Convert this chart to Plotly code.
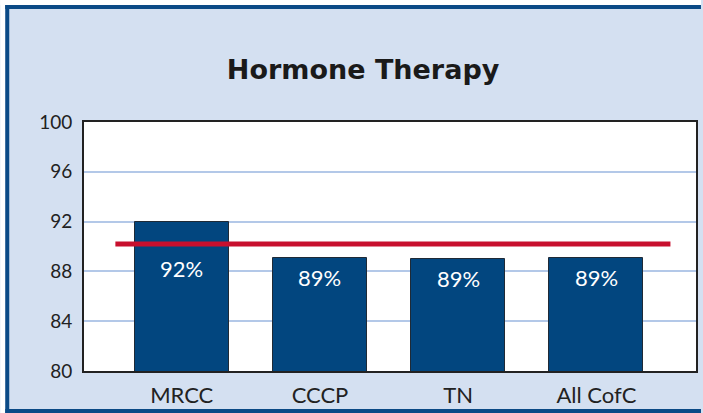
import plotly.graph_objects as go

categories = ["MRCC", "CCCP", "TN", "All CofC"]
values = [92.0, 89.1, 89.0, 89.1]
bar_labels = ["92%", "89%", "89%", "89%"]
benchmark_value = 90.2
benchmark_span = [-0.48, 3.535]
y_ticks = [80, 84, 88, 92, 96, 100]

W, H = 703, 413
ML, MR, MT, MB = 84, 5, 122, 42
PW, PH = W - ML - MR, H - MT - MB

def px_x(p):
    return (p - ML) / PW

def px_y(p):
    return (H - MB - p) / PH

xpos = list(range(len(categories)))

fig = go.Figure()
fig.add_trace(go.Bar(
    x=xpos, y=values, base=0, width=0.68,
    marker=dict(color="#02467f", line=dict(color="#1f2a36", width=1)),
    hoverinfo="skip",
))
fig.add_trace(go.Scatter(
    x=benchmark_span, y=[benchmark_value, benchmark_value], mode="lines",
    line=dict(color="#c8102e", width=5), hoverinfo="skip",
))

label_shift = [-47, -20, -20, -20]
for xi, v, t, s in zip(xpos, values, bar_labels, label_shift):
    fig.add_annotation(x=xi, y=v, text=t, showarrow=False, yshift=s,
                       font=dict(color="white", size=22, family="Lato"))

border = "#0b4a86"
# white margin outside the frame (top and left)
fig.add_shape(type="rect", xref="paper", yref="paper", x0=px_x(0), x1=px_x(W), y0=px_y(5), y1=px_y(0),
              fillcolor="white", line=dict(width=0), layer="below")
fig.add_shape(type="rect", xref="paper", yref="paper", x0=px_x(0), x1=px_x(5), y0=px_y(H), y1=px_y(0),
              fillcolor="white", line=dict(width=0), layer="below")
# frame lines: top, left, bottom
fig.add_shape(type="line", xref="paper", yref="paper", x0=px_x(5), x1=px_x(W), y0=px_y(7), y1=px_y(7),
              line=dict(color=border, width=4), layer="below")
fig.add_shape(type="line", xref="paper", yref="paper", x0=px_x(7), x1=px_x(7), y0=px_y(5), y1=px_y(H),
              line=dict(color=border, width=4), layer="below")
fig.add_shape(type="line", xref="paper", yref="paper", x0=px_x(5), x1=px_x(W), y0=px_y(411), y1=px_y(411),
              line=dict(color=border, width=4), layer="below")

fig.update_layout(
    width=W, height=H,
    margin=dict(l=ML, r=MR, t=MT, b=MB),
    paper_bgcolor="#d4e0f1", plot_bgcolor="white",
    showlegend=False,
    title=dict(text="<b>Hormone Therapy</b>", x=px_x(364), xref="paper", xanchor="center",
               y=1 - 70 / H, yref="container", yanchor="middle",
               font=dict(size=27, color="#1a1a1a", family="DejaVu Sans")),
    font=dict(family="Lato", color="#222222"),
    bargap=0,
)
fig.update_xaxes(range=[-0.707, 3.72], tickvals=xpos, ticktext=categories,
                 showgrid=False, showline=True, mirror=True, linecolor="#222222", linewidth=2,
                 tickfont=dict(size=22, color="#222222"), ticks="", ticklabelstandoff=4,
                 zeroline=False, fixedrange=True)
fig.update_yaxes(range=[80, 100], tickvals=y_ticks, showgrid=True, gridcolor="#b3c8e8", gridwidth=2,
                 showline=True, mirror=True, linecolor="#222222", linewidth=2,
                 tickfont=dict(size=19, color="#222222"), ticks="", ticklabelstandoff=6,
                 zeroline=False, fixedrange=True)

fig.write_html("out.html", config={"displayModeBar": False},
               post_script="document.body.style.margin='0px';document.body.style.overflow='hidden';")
